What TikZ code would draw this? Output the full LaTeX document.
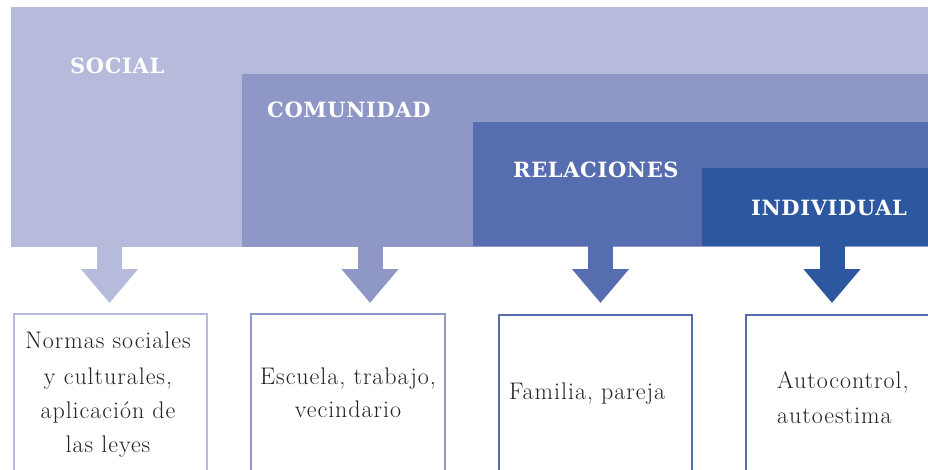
\documentclass[tikz,border=0pt]{standalone}
\usepackage{fontspec}
\usetikzlibrary{arrows.meta}
\newfontfamily\headfont{DejaVu Serif}[LetterSpace=3]
\newfontfamily\bodyfont{Latin Modern Roman}[LetterSpace=4]
\definecolor{cSocial}{HTML}{B6BBDB}
\definecolor{cCom}{HTML}{8E97C6}
\definecolor{cRel}{HTML}{566EB0}
\definecolor{cInd}{HTML}{2D58A0}
\definecolor{cText}{HTML}{222222}
\begin{document}
\begin{tikzpicture}[x=1pt,y=-1pt,
  region/.style={fill=#1, draw=none, anchor=north west, inner sep=0, outer sep=0},
  head/.style={font=\headfont\bfseries\fontsize{21}{21}\selectfont, text=white, anchor=base west, inner sep=0},
  body/.style={font=\bodyfont\fontsize{24}{34.5}\selectfont, text=cText, inner sep=0, anchor=base},
  bodyl/.style={font=\bodyfont\fontsize{24}{34.5}\selectfont, text=cText, inner sep=0, anchor=base west},
  textbox/.style={draw=#1, line width=2pt, fill=white, anchor=north west, inner sep=0, minimum height=200pt},
  blockarrow/.style={draw=#1, line width=25pt, -{Triangle[width=55pt,length=34pt,fill=#1]}}]
\useasboundingbox (0,0) rectangle (928,470);
% nested regions
\node[region=cSocial, minimum width=917pt, minimum height=240pt] (social) at (11,7) {};
\node[region=cCom, minimum width=686pt, minimum height=173pt] (comunidad) at (242,74) {};
\node[region=cRel, minimum width=455pt, minimum height=124pt] (relaciones) at (473,122) {};
\node[region=cInd, minimum width=226pt, minimum height=78pt] (individual) at (702,168) {};
% headings
\node[head] (hSocial) at (70,74) {SOCIAL};
\node[head] (hCom) at (267,118) {COMUNIDAD};
\node[head] (hRel) at (513,178) {RELACIONES};
\node[head] (hInd) at (751,216) {INDIVIDUAL};
% boxes
\node[textbox=cSocial, minimum width=193pt] (b1) at (13,313) {};
\node[textbox=cCom, minimum width=194pt] (b2) at (250,313) {};
\node[textbox=cRel, minimum width=193pt] (b3) at (498,314) {};
\node[textbox=cRel, minimum width=220pt] (b4) at (745,314) {};
% texts
\node[body] (t1a) at (108,348) {Normas sociales};
\node[body] (t1b) at (108,384) {y culturales,};
\node[body] (t1c) at (108,418) {aplicación de};
\node[body] (t1d) at (108,452) {las leyes};
\node[body] (t2a) at (348,384) {Escuela, trabajo,};
\node[body] (t2b) at (348,417) {vecindario};
\node[bodyl] (t3a) at (509,399) {Familia, pareja};
\node[bodyl] (t4a) at (777,388) {Autocontrol,};
\node[bodyl] (t4b) at (777,423) {autoestima};
% arrows
\coordinate (s1) at (109.5,246); \coordinate (e1) at (109.5,303);
\coordinate (s2) at (370,246);   \coordinate (e2) at (370,303);
\coordinate (s3) at (600.5,246); \coordinate (e3) at (600.5,303);
\coordinate (s4) at (832,246);   \coordinate (e4) at (832,303);
\draw[blockarrow=cSocial] (s1) -- (e1);
\draw[blockarrow=cCom] (s2) -- (e2);
\draw[blockarrow=cRel] (s3) -- (e3);
\draw[blockarrow=cInd] (s4) -- (e4);
\end{tikzpicture}
\end{document}
